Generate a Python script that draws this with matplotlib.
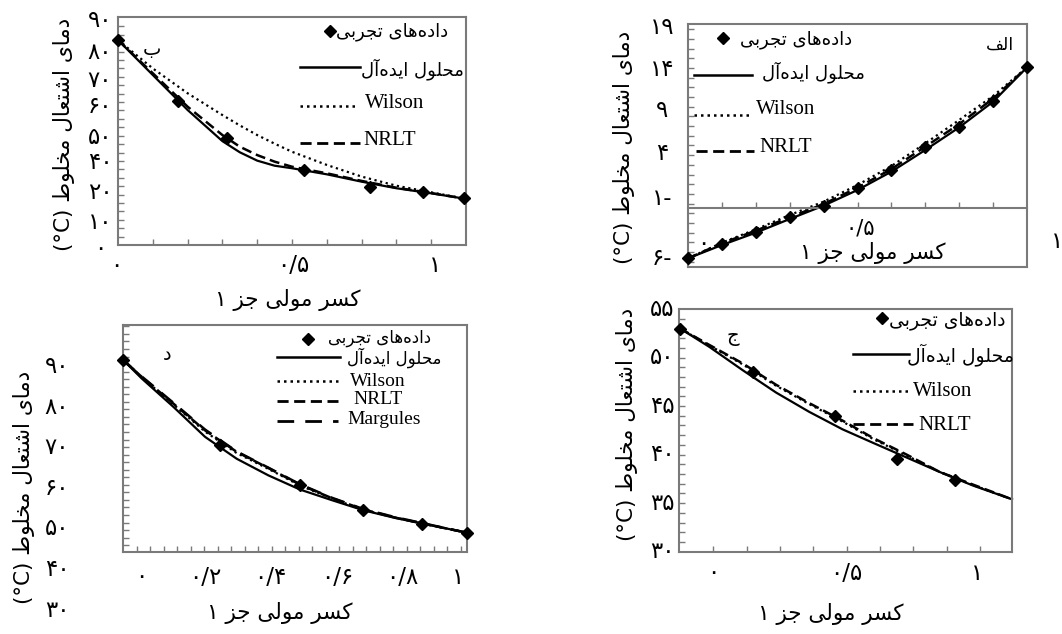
import matplotlib
matplotlib.use("Agg")
import matplotlib.pyplot as plt
from matplotlib.lines import Line2D
from matplotlib.transforms import blended_transform_factory as blend
import numpy as np

plt.rcParams['font.family'] = ['DejaVu Sans']

W, H = 1062, 634

# ---------------- data ----------------
# panel الف
a_x = [0.0, 0.1, 0.2, 0.3, 0.4, 0.5, 0.6, 0.7, 0.8, 0.9, 1.0]
a_exp = [-8.10, -6.41, -5.04, -3.27, -1.90, 0.14, 2.29, 5.04, 7.39, 10.45, 14.37]
a_ideal = [-8.10, -6.53, -5.08, -3.47, -1.90, -0.06, 2.10, 4.65, 7.31, 10.33, 14.37]
a_nrlt = [-8.10, -6.33, -4.84, -3.27, -1.71, 0.22, 2.41, 5.04, 7.70, 10.69, 14.37]
a_wilson = [-8.10, -6.26, -4.69, -3.00, -1.43, 0.53, 2.76, 5.43, 8.18, 11.00, 14.37]
a_ytick_pos = [19.0, 14.06, 9.35, 4.29, -1.0, -8.06]
a_ytick_lab = ['۱۹', '۱۴', '۹', '۴', '۱-', '۶-']

# panel ب
b_x_exp = [0.0, 0.173, 0.312, 0.535, 0.724, 0.877, 0.995]
b_y_exp = [80.9, 56.8, 42.2, 29.5, 23.0, 21.0, 18.4]
b_x = [0.0, 0.1, 0.2, 0.3, 0.35, 0.4, 0.45, 0.5, 0.6, 0.7, 0.8, 0.9, 1.0]
b_ideal = [80.9, 67.1, 53.3, 41.0, 36.6, 33.3, 31.3, 30.3, 27.9, 25.0, 22.4, 20.4, 18.2]
b_nrlt = [80.9, 67.8, 54.6, 43.4, 38.8, 35.5, 32.9, 30.9, 28.3, 25.3, 22.6, 20.5, 18.2]
b_wilson = [80.9, 69.7, 59.9, 51.3, 47.2, 43.4, 40.0, 36.8, 31.6, 27.0, 23.4, 20.8, 18.2]
b_ytick_pos = [88.8, 75.8, 65.1, 54.5, 42.6, 32.4, 20.9, 8.7, -1.2]
b_ytick_lab = ['۹۰', '۸۰', '۷۰', '۶۰', '۵۰', '۴۰', '۲۰', '۱۰', '۰']
b_xtick_pos = [-0.006, 0.503, 0.911]
b_xtick_lab = ['۰', '۰/۵', '۱']

# panel ج
c_x_exp = [-0.125, 0.148, 0.457, 0.688, 0.906]
c_y_exp = [52.9, 48.5, 44.0, 39.6, 37.4]
c_x = [-0.125, -0.015, 0.110, 0.235, 0.360, 0.485, 0.600, 0.725, 0.850, 0.975, 1.120]
c_ideal = [53.0, 51.1, 48.7, 46.4, 44.4, 42.6, 41.2, 39.7, 38.2, 36.8, 35.4]
c_nrlt = [53.0, 51.3, 49.4, 47.2, 45.3, 43.5, 41.7, 40.0, 38.2, 36.9, 35.4]
c_wilson = [53.0, 51.25, 49.3, 47.1, 45.2, 43.4, 41.6, 39.9, 38.2, 36.85, 35.4]
c_ytick_pos = [55, 50, 45, 40, 35, 30]
c_ytick_lab = ['۵۵', '۵۰', '۴۵', '۴۰', '۳۵', '۳۰']
c_xtick_pos = [0.0, 0.5, 0.988]
c_xtick_lab = ['۰', '۰/۵', '۱']

# panel د
d_x_exp = [-0.058, 0.247, 0.500, 0.698, 0.884, 1.026]
d_y_exp = [91.6, 70.8, 60.8, 54.6, 51.3, 49.1]
d_x = [-0.058, 0.0, 0.1, 0.2, 0.3, 0.4, 0.5, 0.6, 0.7, 0.8, 0.9, 1.0, 1.026]
d_ideal = [91.6, 87.1, 80.1, 72.7, 67.3, 63.2, 59.7, 57.1, 54.6, 52.7, 51.1, 49.5, 49.1]
d_nrlt = [91.6, 87.5, 80.9, 74.3, 69.0, 65.0, 60.9, 57.6, 54.8, 52.8, 51.1, 49.5, 49.1]
d_wilson = [91.6, 87.4, 80.7, 74.0, 68.7, 64.8, 60.7, 57.5, 54.7, 52.8, 51.1, 49.5, 49.1]
d_margules = [91.6, 87.6, 81.1, 74.5, 69.1, 65.1, 61.0, 57.7, 54.9, 52.9, 51.2, 49.5, 49.1]
d_ytick_pos = [90, 80, 70, 60, 50, 40, 30]
d_ytick_lab = ['۹۰', '۸۰', '۷۰', '۶۰', '۵۰', '۴۰', '۳۰']
d_xtick_pos = [0.0, 0.2, 0.405, 0.616, 0.821, 1.0]
d_xtick_lab = ['۰', '۰/۲', '۰/۴', '۰/۶', '۰/۸', '۱']

# ---------------- Persian shaping ----------------
FORMS = {
    'ا': ('\uFE8D', '\uFE8E', None, None),
    'آ': ('\uFE81', '\uFE82', None, None),
    'ب': ('\uFE8F', '\uFE90', '\uFE91', '\uFE92'),
    'ت': ('\uFE95', '\uFE96', '\uFE97', '\uFE98'),
    'ج': ('\uFE9D', '\uFE9E', '\uFE9F', '\uFEA0'),
    'ح': ('\uFEA1', '\uFEA2', '\uFEA3', '\uFEA4'),
    'خ': ('\uFEA5', '\uFEA6', '\uFEA7', '\uFEA8'),
    'د': ('\uFEA9', '\uFEAA', None, None),
    'ر': ('\uFEAD', '\uFEAE', None, None),
    'ز': ('\uFEAF', '\uFEB0', None, None),
    'س': ('\uFEB1', '\uFEB2', '\uFEB3', '\uFEB4'),
    'ش': ('\uFEB5', '\uFEB6', '\uFEB7', '\uFEB8'),
    'ط': ('\uFEC1', '\uFEC2', '\uFEC3', '\uFEC4'),
    'ع': ('\uFEC9', '\uFECA', '\uFECB', '\uFECC'),
    'ف': ('\uFED1', '\uFED2', '\uFED3', '\uFED4'),
    'ک': ('\uFED9', '\uFEDA', '\uFEDB', '\uFEDC'),
    'ل': ('\uFEDD', '\uFEDE', '\uFEDF', '\uFEE0'),
    'م': ('\uFEE1', '\uFEE2', '\uFEE3', '\uFEE4'),
    'ه': ('\uFEE9', '\uFEEA', '\uFEEB', '\uFEEC'),
    'و': ('\uFEED', '\uFEEE', None, None),
    'ی': ('\uFEEF', '\uFEF0', '\uFEF3', '\uFEF4'),
}


def fa(s):
    out = []
    n = len(s)
    for i, c in enumerate(s):
        if c == '\u200c':
            continue
        if c not in FORMS:
            out.append(c)
            continue
        prev = s[i - 1] if i > 0 else None
        nxt = s[i + 1] if i + 1 < n else None
        jp = prev in FORMS and FORMS[prev][2] is not None
        jn = nxt in FORMS and FORMS[c][2] is not None
        iso, fin, ini, med = FORMS[c]
        if jp and jn:
            g = med
        elif jp:
            g = fin
        elif jn:
            g = ini
        else:
            g = iso
        out.append(g)
    return ''.join(reversed(out))


T_EXP = fa('داده\u200cهای تجربی')
T_IDEAL = fa('محلول ایده\u200cآل')
T_YLAB = '(°C) ' + fa('دمای اشتعال مخلوط')
T_XLAB = '۱ ' + fa('کسر مولی جز')

SERIF = ['Liberation Serif', 'DejaVu Sans']
SPINE = '#7a7a7a'
FS_TICK = 16.5
FS_YLAB = 15.5
FS_XLAB = 15.5
MS = 6.5

fig = plt.figure(figsize=(W / 100, H / 100), dpi=100)


def fx(px):
    return px / W


def fy(py):
    return 1 - py / H


def make_ax(l, t, r, b):
    ax = fig.add_axes([fx(l), fy(b), (r - l) / W, (b - t) / H])
    for s in ax.spines.values():
        s.set_color(SPINE)
        s.set_linewidth(1.5)
    ax.xaxis.set_major_locator(plt.NullLocator())
    ax.yaxis.set_major_locator(plt.NullLocator())
    ax.tick_params(which='minor', direction='in', length=4, width=1, color=SPINE,
                   labelbottom=False, labelleft=False)
    return ax


def ylabels(ax, pos, labs, px, fs=FS_TICK):
    tr = blend(fig.transFigure, ax.transData)
    for p, l in zip(pos, labs):
        fig.text(fx(px), p, l, transform=tr, ha='center', va='center', fontsize=fs)


def xlabels(ax, pos, labs, py, fs=FS_TICK):
    tr = blend(ax.transData, fig.transFigure)
    for p, l in zip(pos, labs):
        fig.text(p, fy(py), l, transform=tr, ha='center', va='center', fontsize=fs)


def curves(ax, x, ideal, wilson, nrlt, xe, ye, margules=None):
    ax.plot(x, wilson, color='k', lw=1.6, ls=(0, (1, 1.6)), clip_on=False)
    if margules is not None:
        ax.plot(x, margules, color='k', lw=1.8, ls=(0, (6, 4)), clip_on=False)
    ax.plot(x, nrlt, color='k', lw=1.8, ls=(0, (4, 2)), clip_on=False)
    ax.plot(x, ideal, color='k', lw=1.6, ls='-', clip_on=False)
    ax.plot(xe, ye, ls='none', marker='D', ms=MS, color='k', clip_on=False, zorder=5)


def legend(rows, fs_fa=13.5, fs_en=15):
    # rows: (kind, x0, x1, yline, xtext, ytext, text, latin)
    for kind, x0, x1, yl, xt, yt, txt, latin in rows:
        if kind == 'marker':
            fig.add_artist(Line2D([fx((x0 + x1) / 2)], [fy(yl)], marker='D', ms=MS,
                                  color='k', ls='none', transform=fig.transFigure))
        else:
            style = {'solid': dict(ls='-', lw=1.8),
                     'dot': dict(ls=(0, (1, 1.6)), lw=1.8),
                     'dash': dict(ls=(0, (4, 2)), lw=2.0),
                     'long': dict(ls=(0, (6, 4)), lw=2.0)}[kind]
            fig.add_artist(Line2D([fx(x0), fx(x1)], [fy(yl), fy(yl)], color='k',
                                  transform=fig.transFigure, **style))
        if latin:
            fig.text(fx(xt), fy(yt), txt, ha='left', va='center', fontsize=fs_en, family=SERIF)
        else:
            fig.text(fx(xt), fy(yt), txt, ha='left', va='center', fontsize=fs_fa)


# ---------------- panel ب (top-left) ----------------
axb = make_ax(118, 17, 466, 245)
axb.set_xlim(0, 1)
axb.set_ylim(0, 90)
axb.xaxis.set_minor_locator(plt.FixedLocator(np.arange(0.1, 0.95, 0.1)))
axb.yaxis.set_minor_locator(plt.FixedLocator(np.arange(3.3, 88, 3.32)))
curves(axb, b_x, b_ideal, b_wilson, b_nrlt, b_x_exp, b_y_exp)
ylabels(axb, b_ytick_pos, b_ytick_lab, 100)
xlabels(axb, b_xtick_pos, b_xtick_lab, 265)
fig.text(fx(64), fy(134), T_YLAB, rotation=90, ha='center', va='center', fontsize=FS_YLAB)
fig.text(fx(288), fy(300), T_XLAB, ha='center', va='center', fontsize=FS_XLAB)
fig.text(fx(152), fy(50), fa('ب'), ha='center', va='center', fontsize=14)
legend([('marker', 300, 360, 31, 336, 32, T_EXP, False),
        ('solid', 300, 360, 67, 361, 69, T_IDEAL, False),
        ('dot', 300, 357, 106, 365, 104, 'Wilson', True),
        ('dash', 300, 360, 143, 363, 141, 'NRLT', True)], fs_fa=13)

# ---------------- panel الف (top-right) ----------------
axa = make_ax(688, 24, 1027, 266.7)
axa.set_xlim(0, 1)
axa.set_ylim(-9.08, 19.47)
axa.spines['bottom'].set_position(('data', -2.21))
axa.axhline(-9.08, color=SPINE, lw=1.5, clip_on=False)
axa.xaxis.set_minor_locator(plt.FixedLocator(np.arange(0.1, 0.95, 0.1)))
axa.yaxis.set_minor_locator(plt.FixedLocator(np.arange(-8.5, 19.3, 1.14)))
curves(axa, a_x, a_ideal, a_wilson, a_nrlt, a_x, a_exp)
ylabels(axa, a_ytick_pos, a_ytick_lab, 662)
tra = blend(axa.transData, fig.transFigure)
fig.text(0.045, fy(243), '۰', transform=tra, ha='center', va='center', fontsize=FS_TICK)
fig.text(0.507, fy(229), '۰/۵', transform=tra, ha='center', va='center', fontsize=15)
fig.text(1.089, fy(241), '۱', transform=tra, ha='center', va='center', fontsize=FS_TICK)
fig.text(fx(624), fy(147), T_YLAB, rotation=90, ha='center', va='center', fontsize=FS_YLAB)
fig.text(fx(873), fy(253), T_XLAB, ha='center', va='center', fontsize=FS_XLAB)
fig.text(fx(1000), fy(45), fa('الف'), ha='center', va='center', fontsize=12.5)
legend([('marker', 694, 752, 38, 740, 40, T_EXP, False),
        ('solid', 694, 752, 75, 762, 72, T_IDEAL, False),
        ('dot', 694, 752, 115, 756, 109, 'Wilson', True),
        ('dash', 696, 754, 151, 759, 148, 'NRLT', True)], fs_fa=13)

# ---------------- panel د (bottom-left) ----------------
axd = make_ax(123.3, 325.3, 466.7, 552)
axd.set_xlim(-0.058, 1.026)
axd.set_ylim(44.31, 100.2)
axd.xaxis.set_minor_locator(plt.FixedLocator(np.arange(-0.0155, 1.02, 0.0426)))
axd.yaxis.set_minor_locator(plt.FixedLocator(np.arange(46, 100, 1.86)))
curves(axd, d_x, d_ideal, d_wilson, d_nrlt, d_x_exp, d_y_exp, margules=d_margules)
ylabels(axd, d_ytick_pos, d_ytick_lab, 57)
xlabels(axd, d_xtick_pos, d_xtick_lab, 577)
fig.text(fx(24), fy(487), T_YLAB, rotation=90, ha='center', va='center', fontsize=FS_YLAB)
fig.text(fx(280), fy(613), T_XLAB, ha='center', va='center', fontsize=FS_XLAB)
fig.text(fx(167), fy(354), fa('د'), ha='center', va='center', fontsize=14)
legend([('marker', 277, 338, 339, 328, 338, T_EXP, False),
        ('solid', 277, 340, 357, 347, 358, T_IDEAL, False),
        ('dot', 277, 338, 381, 350, 381, 'Wilson', True),
        ('dash', 277, 338, 401, 353, 400, 'NRLT', True),
        ('long', 277, 338, 421, 347, 420, 'Margules', True)], fs_fa=12, fs_en=14)

# ---------------- panel ج (bottom-right) ----------------
axc = make_ax(679.3, 309, 1012, 551.7)
axc.set_xlim(-0.1275, 1.12)
axc.set_ylim(30, 55)
axc.xaxis.set_minor_locator(plt.FixedLocator(np.arange(0, 1.01, 0.125)))
axc.yaxis.set_minor_locator(plt.FixedLocator(np.arange(31, 55, 1)))
curves(axc, c_x, c_ideal, c_wilson, c_nrlt, c_x_exp, c_y_exp)
ylabels(axc, c_ytick_pos, c_ytick_lab, 662)
xlabels(axc, c_xtick_pos, c_xtick_lab, 573)
fig.text(fx(627), fy(424), T_YLAB, rotation=90, ha='center', va='center', fontsize=FS_YLAB)
fig.text(fx(831), fy(614), T_XLAB, ha='center', va='center', fontsize=FS_XLAB)
fig.text(fx(733), fy(337), fa('ج'), ha='center', va='center', fontsize=14)
legend([('marker', 853, 911, 318, 889, 320, T_EXP, False),
        ('solid', 853, 909, 354, 907, 355, T_IDEAL, False),
        ('dot', 853, 911, 391, 913, 392, 'Wilson', True),
        ('dash', 853, 913, 424, 918, 425, 'NRLT', True)], fs_fa=13.5)

fig.savefig('out.png', dpi=100)
